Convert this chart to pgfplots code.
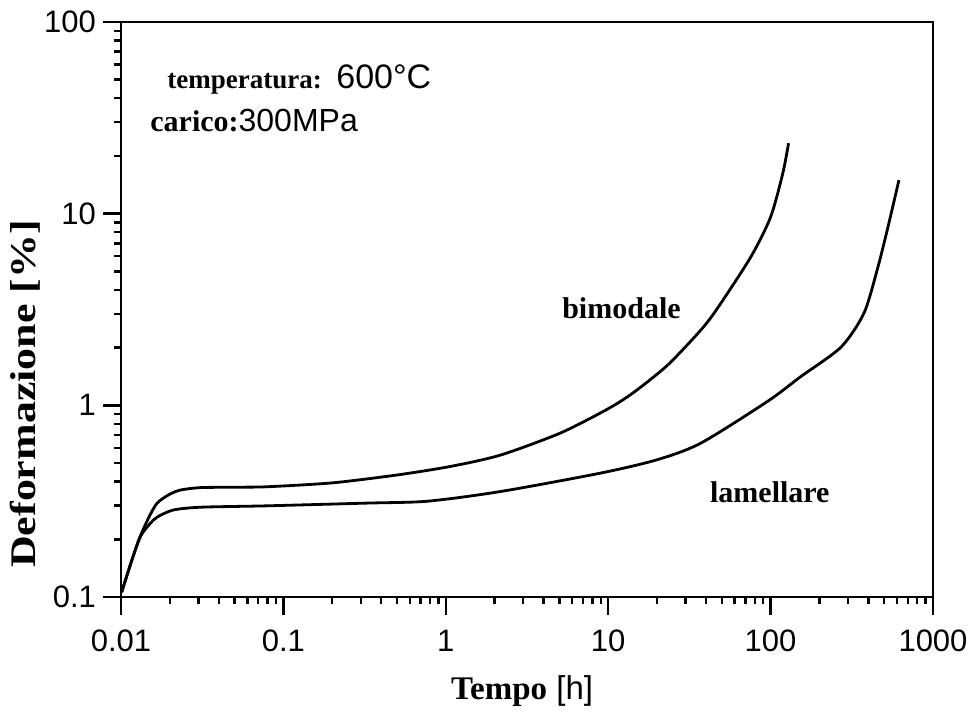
\documentclass[border=0pt]{standalone}
\usepackage{fontspec}
\setmainfont{Liberation Sans}
\newfontfamily\tnr{Liberation Serif}
\usepackage{graphicx}
\usepackage{pgfplots}
\pgfplotsset{compat=1.18}
\pgfplotstableread{
x y
0.0101 0.106
0.0115 0.150
0.0131 0.206
0.0150 0.265
0.0167 0.309
0.0195 0.340
0.0231 0.361
0.0307 0.372
0.05 0.374
0.0795 0.376
0.2 0.394
0.5 0.433
1.07 0.48
2.17 0.55
5.08 0.717
10 0.96
14.4 1.17
23.2 1.62
37.2 2.47
47.2 3.22
75.5 5.94
100 9.6
119 16.3
129 23.3
}\bimodale
\pgfplotstableread{
x y
0.0101 0.106
0.0115 0.150
0.0131 0.205
0.0150 0.240
0.0167 0.261
0.0209 0.284
0.0307 0.294
0.0795 0.299
0.329 0.309
0.771 0.316
2.17 0.355
8.98 0.443
20 0.52
37.2 0.635
96 1.05
153 1.41
271 2.01
376 3.03
458 5.26
528 8.51
617 14.96
}\lamellare
\begin{document}
\begin{tikzpicture}
\path[use as bounding box] (-60.5pt,-59pt) rectangle (427pt,298.5pt);
\begin{axis}[
 scale only axis, width=406pt, height=287.5pt,
 xmode=log, ymode=log,
 xmin=0.01, xmax=1000, ymin=0.1, ymax=100,
 axis line style={line width=1.4pt},
 xtick pos=left, ytick pos=left,
 tick align=outside,
 major tick length=9pt, minor tick length=3.5pt,
 every tick/.style={line width=1.2pt, black},
 xtick={0.01,0.1,1,10,100,1000}, xticklabels={0.01,0.1,1,10,100,1000},
 ytick={0.1,1,10,100}, yticklabels={0.1,1,10,100},
 minor xtick={0.02,0.03,0.04,0.05,0.06,0.07,0.08,0.09,0.2,0.3,0.4,0.5,0.6,0.7,0.8,0.9,2,3,4,5,6,7,8,9,20,30,40,50,60,70,80,90,200,300,400,500,600,700,800,900},
 minor ytick={0.2,0.3,0.4,0.5,0.6,0.7,0.8,0.9,2,3,4,5,6,7,8,9,20,30,40,50,60,70,80,90},
 ticklabel style={font=\fontsize{15.5}{18}\selectfont},
 xticklabel style={yshift=-4pt},
 xlabel={{\tnr\bfseries Tempo} [h]},
 xlabel style={at={(rel axis cs:0.494,0)}, anchor=base, yshift=-51.5pt, font=\fontsize{16.5}{20}\selectfont},
 ylabel={\scalebox{1.22}[1]{\tnr\bfseries Deformazione [\%]}},
 ylabel style={at={(rel axis cs:0,0.353)}, anchor=center, yshift=48pt, font=\fontsize{18}{20}\selectfont},
]
\addplot[smooth, tension=0.45, line width=1.4pt, black, no markers] table[x=x,y=y] {\bimodale};
\addplot[smooth, tension=0.45, line width=1.4pt, black, no markers] table[x=x,y=y] {\lamellare};
\node[anchor=base west, inner sep=0pt] at (rel axis cs:0.0567,0.885) {\fontsize{13.5}{16}\selectfont{\tnr\bfseries temperatura:}\, {\fontsize{17}{20}\selectfont 600°C}};
\node[anchor=base west, inner sep=0pt] at (rel axis cs:0.0357,0.8087) {\fontsize{15}{18}\selectfont{\tnr\bfseries carico:}{\fontsize{16}{20}\selectfont 300MPa}};
\node[anchor=base west, inner sep=0pt] at (rel axis cs:0.543,0.485) {\fontsize{15}{18}\selectfont\tnr\bfseries bimodale};
\node[anchor=base west, inner sep=0pt] at (rel axis cs:0.725,0.165) {\fontsize{15}{18}\selectfont\tnr\bfseries lamellare};
\end{axis}
\end{tikzpicture}
\end{document}
